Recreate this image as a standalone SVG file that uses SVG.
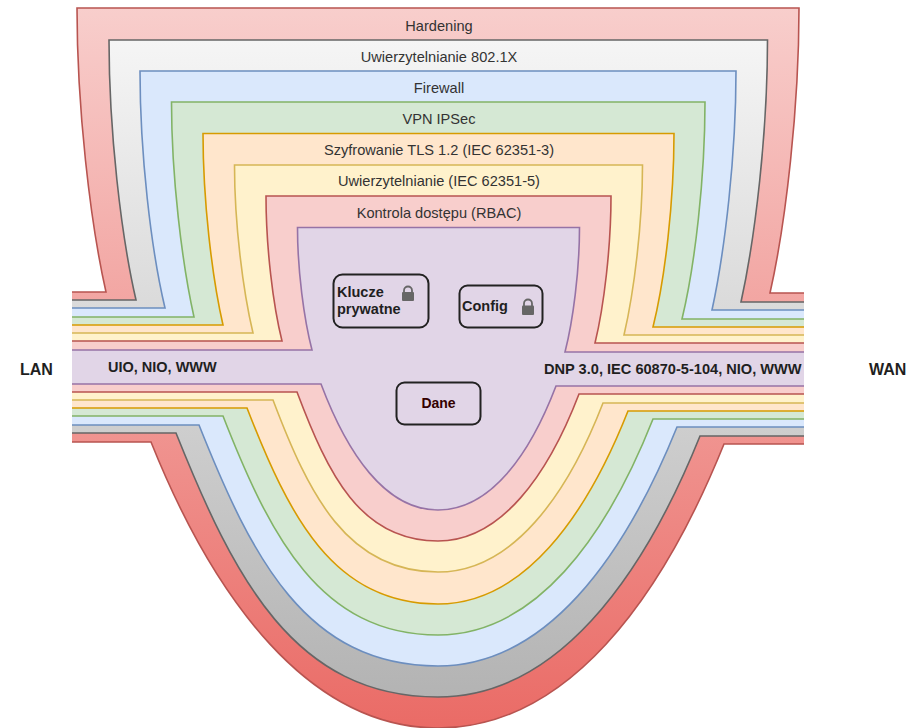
<svg xmlns="http://www.w3.org/2000/svg" width="923" height="728" viewBox="0 0 923 728">
<style>
text{font-family:"Liberation Sans",Arial,sans-serif;fill:#333}
.l{font-size:14.6px;text-anchor:middle}
.b{font-size:14.5px;font-weight:bold;fill:#1f1f1f}
.s{fill:none;stroke-width:1.6}
.box{fill:none;stroke:#222;stroke-width:2}
.lock{fill:#666}
.shackle{fill:none;stroke:#666;stroke-width:1.8}
</style>
<defs>
<linearGradient id="gr" x1="0" y1="0" x2="0" y2="1"><stop offset="0" stop-color="#f8cecc"/><stop offset="1" stop-color="#ea6b66"/></linearGradient>
<linearGradient id="gg" x1="0" y1="0" x2="0" y2="1"><stop offset="0" stop-color="#f5f5f5"/><stop offset="1" stop-color="#b3b3b3"/></linearGradient>
</defs>
<g id="hardening">
<path fill="url(#gr)" d="M72,292L106,292C90,221 77,107 77,8L799,8C799,107 786,222 770,293L804,293L804,444L724,444C661,600 567,728 438,728C309,728 214,599 151,442L72,442Z"/>
<path class="s" stroke="#b85450" d="M72,292L106,292C90,221 77,107 77,8L799,8C799,107 786,222 770,293L804,293M804,444L724,444C661,600 567,728 438,728C309,728 214,599 151,442L72,442"/>
<text class="l" x="439" y="31">Hardening</text>
</g>
<g id="dot1x">
<path fill="url(#gg)" d="M72,300L136,300C121,235 109,131 109,40L767.500,40C767.500,132 755.500,236 741,302L804,302L804,436L700,436C642,580 556,697 438,697C294,697 234,578 176,433L72,433Z"/>
<path class="s" stroke="#666" d="M72,300L136,300C121,235 109,131 109,40L767.500,40C767.500,132 755.500,236 741,302L804,302M804,436L700,436C642,580 556,697 438,697C294,697 234,578 176,433L72,433"/>
<text class="l" x="439" y="62">Uwierzytelnianie 802.1X</text>
</g>
<g id="firewall">
<path fill="#dae8fc" d="M72,308L165,308C151,249 140,154 140,71L736,71C736,155 725,250 712,310L804,310L804,427L677,427C624,558 546,666 438,666C306,666 252,558 199,425L72,425Z"/>
<path class="s" stroke="#6c8ebf" d="M72,308L165,308C151,249 140,154 140,71L736,71C736,155 725,250 712,310L804,310M804,427L677,427C624,558 546,666 438,666C306,666 252,558 199,425L72,425"/>
<text class="l" x="439" y="93">Firewall</text>
</g>
<g id="vpn">
<path fill="#d5e8d4" d="M72,317L194,317C182,263 171.500,177 171.500,102L705,102C705,178 695,265 682,319L804,319L804,419L653,419C606,538 535,635 438,635C320,635 270,536 223,416L72,416Z"/>
<path class="s" stroke="#82b366" d="M72,317L194,317C182,263 171.500,177 171.500,102L705,102C705,178 695,265 682,319L804,319M804,419L653,419C606,538 535,635 438,635C320,635 270,536 223,416L72,416"/>
<text class="l" x="439" y="123.500">VPN IPSec</text>
</g>
<g id="tls">
<path fill="#ffe6cc" d="M72,325L223,325C212,277 203,200.500 203,133.500L674,133.500C674,201 665,279 653,327L804,327L804,411L628,411C586,517 523.500,604 438,604C333,604 289,516 247,408L72,408Z"/>
<path class="s" stroke="#d79b00" d="M72,325L223,325C212,277 203,200.500 203,133.500L674,133.500C674,201 665,279 653,327L804,327M804,411L628,411C586,517 523.500,604 438,604C333,604 289,516 247,408L72,408"/>
<text class="l" x="439" y="155">Szyfrowanie TLS 1.2 (IEC 62351-3)</text>
</g>
<g id="auth">
<path fill="#fff2cc" d="M72,333L253,333C243,291 234.500,224 234.500,165L642.500,165C642.500,224 634,292 624,335L804,335L804,403L603,403C567,496 512,572 438,572C347,572 309,495 273,400L72,400Z"/>
<path class="s" stroke="#d6b656" d="M72,333L253,333C243,291 234.500,224 234.500,165L642.500,165C642.500,224 634,292 624,335L804,335M804,403L603,403C567,496 512,572 438,572C347,572 309,495 273,400L72,400"/>
<text class="l" x="439" y="186">Uwierzytelnianie (IEC 62351-5)</text>
</g>
<g id="rbac">
<path fill="#f8cecc" d="M72,341L282,341C273,305 266,247 266,196L611,196C611,247 604,306 595,343L804,343L804,394L579,394C548,475 501,541 438,541C360,541 328,474 297,392L72,392Z"/>
<path class="s" stroke="#b85450" d="M72,341L282,341C273,305 266,247 266,196L611,196C611,247 604,306 595,343L804,343M804,394L579,394C548,475 501,541 438,541C360,541 328,474 297,392L72,392"/>
<text class="l" x="439" y="218">Kontrola dostępu (RBAC)</text>
</g>
<g id="core">
<path fill="#e1d5e7" d="M72,350L312,350C304,319.500 297.500,270.500 297.500,227.500L579.500,227.500C579.500,271 573,321 565,352L804,352L804,386L556,386C530,454 491,510 438,510C385,510 347,453 321,384L72,384Z"/>
<path class="s" stroke="#9673a6" d="M72,350L312,350C304,319.500 297.500,270.500 297.500,227.500L579.500,227.500C579.500,271 573,321 565,352L804,352M804,386L556,386C530,454 491,510 438,510C385,510 347,453 321,384L72,384"/>
<text class="b" x="108" y="372">UIO, NIO, WWW</text>
<text class="b" x="544" y="374" style="font-size:14.600px">DNP 3.0, IEC 60870-5-104, NIO, WWW</text>
</g>
<g id="klucze">
<rect class="box" x="333.500" y="274.500" width="95" height="53" rx="9"/>
<text class="b" x="337" y="297">Klucze</text>
<text class="b" x="337" y="314">prywatne</text>
<path class="shackle" d="M404,293V290.500a4,4 0 0 1 8,0V293"/>
<rect class="lock" x="402" y="292" width="12" height="9" rx="1"/>
</g>
<g id="config">
<rect class="box" x="459.500" y="285.500" width="83" height="42" rx="8"/>
<text class="b" x="462" y="311">Config</text>
<path class="shackle" d="M524,306V303.500a4,4 0 0 1 8,0V306"/>
<rect class="lock" x="522" y="305.500" width="12" height="9.500" rx="1"/>
</g>
<g id="dane">
<rect class="box" x="396.500" y="382.500" width="84" height="42" rx="8"/>
<text class="b" x="438.500" y="408" text-anchor="middle" style="fill:#330000;font-size:14px">Dane</text>
</g>
<g id="lan"><text class="b" x="20" y="375" style="font-size:16px">LAN</text></g>
<g id="wan"><text class="b" x="869" y="375" style="font-size:16px">WAN</text></g>
<g id="connectors"/>
</svg>
